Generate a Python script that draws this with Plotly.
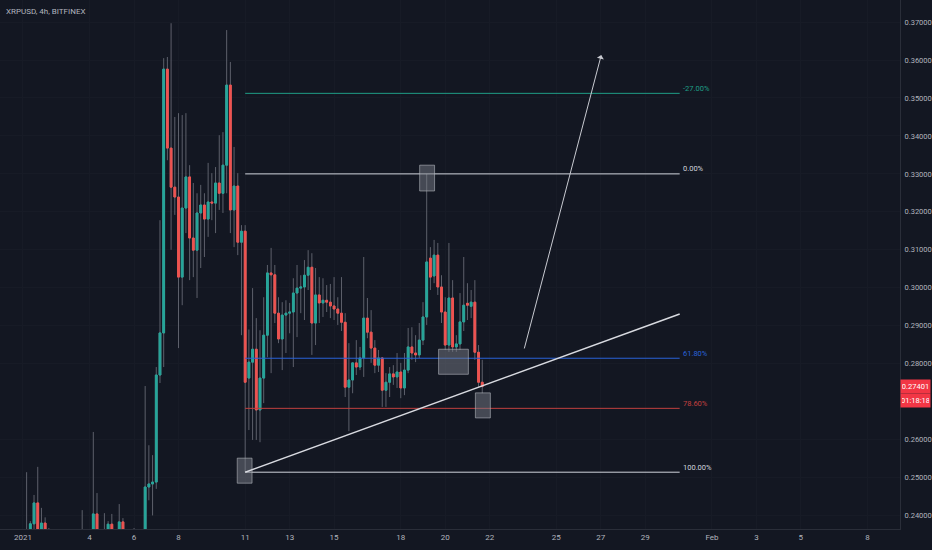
import pandas as pd
import plotly.graph_objects as go

# XRPUSD 4h candles (Bitfinex), first candle 1 Jan 2021 00:00
opens = [0.2310, 0.2300, 0.2340, 0.2378, 0.2433, 0.2350, 0.2380, 0.2345, 0.2330, 0.2290,
         0.2250, 0.2270, 0.2230, 0.2200, 0.2230, 0.2250, 0.2240, 0.2290, 0.2280, 0.2320,
         0.2404, 0.2340, 0.2330, 0.2360, 0.2377, 0.2340, 0.2330, 0.2383, 0.2340, 0.2320,
         0.2310, 0.2330, 0.2340, 0.2350, 0.2475, 0.2483, 0.2488, 0.2770, 0.2881, 0.3576,
         0.3368, 0.3265, 0.3239, 0.3028, 0.3210, 0.3292, 0.3131, 0.3099, 0.3197, 0.3218,
         0.3181, 0.3226, 0.3223, 0.3276, 0.3249, 0.3323, 0.3534, 0.3205, 0.3268, 0.3120,
         0.3149, 0.2762, 0.2804, 0.2838, 0.2678, 0.2762, 0.2875, 0.3039, 0.3034, 0.2933,
         0.2865, 0.2928, 0.2933, 0.2936, 0.2986, 0.2999, 0.3002, 0.3033, 0.3054, 0.2907,
         0.2981, 0.2960, 0.2967, 0.2962, 0.2952, 0.2944, 0.2933, 0.2909, 0.2738, 0.2757,
         0.2802, 0.2791, 0.2815, 0.2920, 0.2883, 0.2841, 0.2796, 0.2815, 0.2730, 0.2751,
         0.2773, 0.2765, 0.2778, 0.2736, 0.2783, 0.2844, 0.2828, 0.2823, 0.2862, 0.2923,
         0.3078, 0.3031, 0.3086, 0.3002, 0.2936, 0.2849, 0.2973, 0.2844, 0.2852, 0.2910,
         0.2959, 0.2951, 0.2962, 0.2830, 0.2751]
highs = [0.2360, 0.2514, 0.2385, 0.2454, 0.2528, 0.2420, 0.2395, 0.2367, 0.2345, 0.2310,
         0.2300, 0.2290, 0.2250, 0.2260, 0.2290, 0.2300, 0.2414, 0.2340, 0.2350, 0.2620,
         0.2459, 0.2360, 0.2406, 0.2385, 0.2404, 0.2360, 0.2430, 0.2393, 0.2355, 0.2340,
         0.2367, 0.2360, 0.2362, 0.2741, 0.2585, 0.2559, 0.2791, 0.3178, 0.3605, 0.3608,
         0.3697, 0.3450, 0.3460, 0.3455, 0.3460, 0.3323, 0.3276, 0.3249, 0.3271, 0.3249,
         0.3329, 0.3302, 0.3318, 0.3402, 0.3410, 0.3679, 0.3595, 0.3371, 0.3302, 0.3165,
         0.3165, 0.2890, 0.2999, 0.2920, 0.2888, 0.2975, 0.3060, 0.3105, 0.3060, 0.2975,
         0.2962, 0.2967, 0.2960, 0.3025, 0.3060, 0.3033, 0.3073, 0.3099, 0.3091, 0.3052,
         0.3028, 0.3025, 0.3007, 0.3010, 0.3028, 0.2975, 0.3028, 0.2933, 0.2854, 0.2804,
         0.2862, 0.2844, 0.3081, 0.2973, 0.2941, 0.2862, 0.2836, 0.2817, 0.2775, 0.2791,
         0.2796, 0.2828, 0.2802, 0.2828, 0.2894, 0.2896, 0.2875, 0.2907, 0.2962, 0.3300,
         0.3107, 0.3126, 0.3118, 0.3033, 0.2975, 0.3118, 0.3020, 0.2875, 0.2986, 0.3081,
         0.3012, 0.2994, 0.3020, 0.2849, 0.2810]
lows = [0.2280, 0.2270, 0.2320, 0.2360, 0.2330, 0.2335, 0.2330, 0.2300, 0.2270, 0.2230,
        0.2220, 0.2200, 0.2170, 0.2180, 0.2210, 0.2220, 0.2220, 0.2250, 0.2260, 0.2300,
        0.2320, 0.2300, 0.2310, 0.2330, 0.2310, 0.2300, 0.2320, 0.2320, 0.2290, 0.2280,
        0.2290, 0.2300, 0.2320, 0.2340, 0.2440, 0.2400, 0.2470, 0.2749, 0.2791, 0.3336,
        0.3100, 0.3192, 0.2841, 0.2954, 0.3144, 0.3020, 0.3028, 0.2973, 0.3052, 0.3081,
        0.3134, 0.3178, 0.3144, 0.3205, 0.3197, 0.3249, 0.3144, 0.3107, 0.3086, 0.2875,
        0.2514, 0.2625, 0.2599, 0.2599, 0.2593, 0.2696, 0.2817, 0.2775, 0.2907, 0.2854,
        0.2783, 0.2828, 0.2880, 0.2791, 0.2870, 0.2933, 0.2915, 0.2994, 0.2823, 0.2849,
        0.2907, 0.2923, 0.2936, 0.2920, 0.2915, 0.2902, 0.2886, 0.2712, 0.2622, 0.2722,
        0.2770, 0.2783, 0.2765, 0.2867, 0.2802, 0.2775, 0.2778, 0.2686, 0.2686, 0.2712,
        0.2744, 0.2736, 0.2709, 0.2717, 0.2775, 0.2810, 0.2804, 0.2815, 0.2849, 0.2902,
        0.2994, 0.3012, 0.2981, 0.2907, 0.2836, 0.2831, 0.2831, 0.2831, 0.2836, 0.2886,
        0.2915, 0.2920, 0.2810, 0.2738, 0.2722]
closes = [0.2300, 0.2340, 0.2378, 0.2433, 0.2350, 0.2380, 0.2345, 0.2330, 0.2290, 0.2250,
          0.2270, 0.2230, 0.2200, 0.2230, 0.2250, 0.2240, 0.2290, 0.2280, 0.2320, 0.2404,
          0.2340, 0.2330, 0.2360, 0.2377, 0.2340, 0.2330, 0.2383, 0.2340, 0.2320, 0.2310,
          0.2330, 0.2340, 0.2350, 0.2475, 0.2483, 0.2488, 0.2770, 0.2881, 0.3576, 0.3368,
          0.3265, 0.3239, 0.3028, 0.3210, 0.3292, 0.3131, 0.3099, 0.3197, 0.3218, 0.3181,
          0.3226, 0.3223, 0.3276, 0.3249, 0.3323, 0.3534, 0.3205, 0.3268, 0.3120, 0.3149,
          0.2751, 0.2804, 0.2838, 0.2678, 0.2762, 0.2875, 0.3039, 0.3034, 0.2933, 0.2865,
          0.2928, 0.2933, 0.2936, 0.2986, 0.2999, 0.3002, 0.3033, 0.3054, 0.2907, 0.2981,
          0.2960, 0.2967, 0.2962, 0.2952, 0.2944, 0.2933, 0.2909, 0.2738, 0.2757, 0.2802,
          0.2791, 0.2815, 0.2920, 0.2883, 0.2841, 0.2796, 0.2815, 0.2730, 0.2751, 0.2773,
          0.2765, 0.2778, 0.2736, 0.2783, 0.2844, 0.2828, 0.2823, 0.2862, 0.2923, 0.3068,
          0.3028, 0.3086, 0.3002, 0.2936, 0.2849, 0.2973, 0.2844, 0.2852, 0.2910, 0.2954,
          0.2954, 0.2962, 0.2830, 0.2751, 0.27401]
times = pd.date_range("2021-01-01 00:00", periods=len(opens), freq="4h")

tick_dates = ["2021-01-01", "2021-01-04", "2021-01-06", "2021-01-08", "2021-01-11",
              "2021-01-13", "2021-01-15", "2021-01-18", "2021-01-20", "2021-01-22",
              "2021-01-25", "2021-01-27", "2021-01-29", "2021-02-01", "2021-02-03",
              "2021-02-05", "2021-02-08"]
tick_text = ["2021", "4", "6", "8", "11", "13", "15", "18", "20", "22",
             "25", "27", "29", "Feb", "3", "5", "8"]
price_ticks = [0.24, 0.25, 0.26, 0.28, 0.29, 0.30, 0.31, 0.32, 0.33, 0.34, 0.35, 0.36, 0.37]

# fib retracement drawn from the Jan 11 low to the Jan 19 high
fib_ratios = [-0.27, 0.0, 0.618, 0.786, 1.0]
fib_labels = ["-27.00%", "0.00%", "61.80%", "78.60%", "100.00%"]
fib_colors = ["#1f9e86", "#d1d4dc", "#2962d8", "#c0403f", "#d1d4dc"]
fib_start = "2021-01-11 00:00"
fib_end = "2021-01-30 13:10"

trend_times = ["2021-01-11 00:00", "2021-01-30 13:10"]
trend_prices = [0.2514, 0.2931]

arrow_times = ["2021-01-23 13:00", "2021-01-27 00:30"]
arrow_prices = [0.2836, 0.3613]

box_t0 = ["2021-01-10 15:25", "2021-01-18 20:25", "2021-01-19 16:50", "2021-01-21 08:35"]
box_t1 = ["2021-01-11 07:25", "2021-01-19 12:30", "2021-01-21 01:00", "2021-01-22 00:45"]
box_lo = [0.2485, 0.3255, 0.2772, 0.2657]
box_hi = [0.2551, 0.3323, 0.2838, 0.2723]

BG = "#131722"
TXT = "#b2b5be"
UP = "#26a69a"
DOWN = "#ef5350"
WICK = "#5d606b"
FONT = "Roboto, sans-serif"

fig = go.Figure()

# gray wicks first, coloured bodies on top
fig.add_trace(go.Candlestick(
    x=times, open=opens, high=highs, low=lows, close=closes,
    increasing=dict(line=dict(color=WICK, width=1), fillcolor=WICK),
    decreasing=dict(line=dict(color=WICK, width=1), fillcolor=WICK),
    whiskerwidth=0, hoverinfo="skip", showlegend=False))

body_top = [max(o, c) for o, c in zip(opens, closes)]
body_bot = [min(o, c) for o, c in zip(opens, closes)]
fig.add_trace(go.Candlestick(
    x=times, open=opens, high=body_top, low=body_bot, close=closes,
    increasing=dict(line=dict(color=UP, width=1), fillcolor=UP),
    decreasing=dict(line=dict(color=DOWN, width=1), fillcolor=DOWN),
    whiskerwidth=0, showlegend=False))

fib_high = max(highs[60:])
fib_low = min(lows[60:])
for r, lab, col in zip(fib_ratios, fib_labels, fib_colors):
    lvl = fib_high - r * (fib_high - fib_low)
    fig.add_shape(type="line", x0=fib_start, x1=fib_end, y0=lvl, y1=lvl,
                  line=dict(color=col, width=1))
    fig.add_annotation(x=fib_end, y=lvl, text=lab, showarrow=False,
                       xanchor="left", yanchor="middle", xshift=1, yshift=5,
                       font=dict(family=FONT, size=7.5, color=col))

for t0, t1, lo, hi in zip(box_t0, box_t1, box_lo, box_hi):
    fig.add_shape(type="rect", x0=t0, x1=t1, y0=lo, y1=hi,
                  fillcolor="rgba(120,123,134,0.5)",
                  line=dict(color="rgba(190,193,200,0.55)", width=1))

fig.add_shape(type="line", x0=trend_times[0], x1=trend_times[1],
              y0=trend_prices[0], y1=trend_prices[1],
              line=dict(color="#d8dae0", width=1.5))

fig.add_annotation(x=arrow_times[1], y=arrow_prices[1], ax=arrow_times[0], ay=arrow_prices[0],
                   axref="x", ayref="y", xref="x", yref="y", text="", showarrow=True,
                   arrowhead=1, arrowsize=1.2, arrowwidth=1, arrowcolor="#c8cad1")

# symbol title
fig.add_annotation(xref="paper", yref="paper", x=0.004, y=1, yshift=-5, text="XRPUSD, 4h, BITFINEX",
                   showarrow=False, xanchor="left", yanchor="top",
                   font=dict(family=FONT, size=8, color=TXT))

# last price and countdown tags on the price scale
fig.add_annotation(xref="paper", yref="y", x=1.0, y=closes[-1], text="0.27401",
                   showarrow=False, xanchor="left", yanchor="middle", width=27, height=11,
                   bgcolor="#f23645", borderpad=1, font=dict(family=FONT, size=7.5, color="#ffffff"))
fig.add_annotation(xref="paper", yref="y", x=1.0, y=closes[-1], yshift=-14, text="01:18:18",
                   showarrow=False, xanchor="left", yanchor="middle", width=27, height=11,
                   bgcolor="#f23645", borderpad=1, font=dict(family=FONT, size=7.5, color="#ffffff"))

fig.update_layout(
    width=932, height=550,
    margin=dict(l=0, r=29, t=0, b=21),
    paper_bgcolor=BG, plot_bgcolor=BG,
    showlegend=False,
    font=dict(family=FONT, size=8, color=TXT),
    xaxis=dict(type="date", range=["2020-12-30 23:15", "2021-02-09 11:05"],
               tickvals=tick_dates, ticktext=tick_text, ticks="",
               showgrid=True, gridcolor="#171b26", zeroline=False,
               showline=True, linecolor="#2a2e39", rangeslider=dict(visible=False),
               tickfont=dict(family=FONT, size=8, color=TXT)),
    yaxis=dict(side="right", range=[0.23643, 0.37582], tickvals=price_ticks,
               tickformat=".5f", ticks="", showgrid=True, gridcolor="#171b26",
               zeroline=False, showline=True, linecolor="#2a2e39", ticklabelstandoff=2,
               tickfont=dict(family=FONT, size=7.5, color=TXT)),
)

# the page's default 8px body margin would shift the chart, so drop it
fig.write_html("out.html", config={"displayModeBar": False},
               post_script="document.body.style.margin='0';"
                           "document.body.style.background='#131722';")
